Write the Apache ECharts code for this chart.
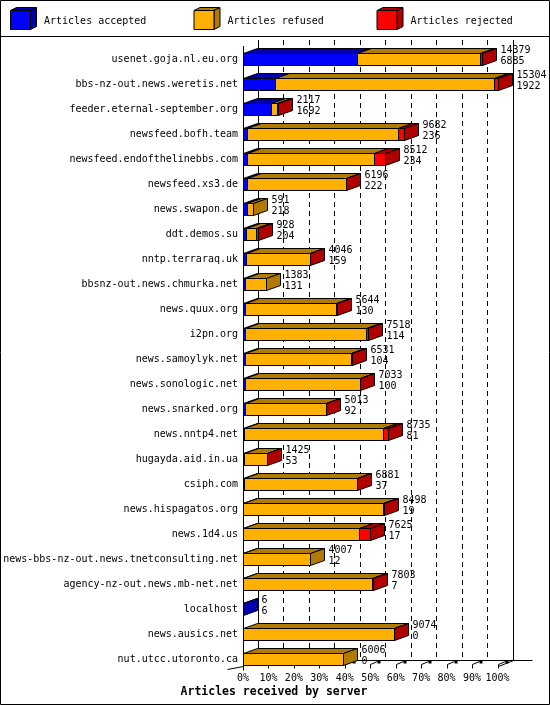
<!DOCTYPE html>
<html><head><meta charset="utf-8">
<script src="https://cdn.jsdelivr.net/npm/echarts@6/dist/echarts.min.js"></script>
<style>html,body{margin:0;padding:0;background:#fff}#c{width:550px;height:705px}</style>
</head><body><div id="c"></div>
<script>
const servers = ['usenet.goja.nl.eu.org','bbs-nz-out.news.weretis.net','feeder.eternal-september.org','newsfeed.bofh.team','newsfeed.endofthelinebbs.com','newsfeed.xs3.de','news.swapon.de','ddt.demos.su','nntp.terraraq.uk','bbsnz-out.news.chmurka.net','news.quux.org','i2pn.org','news.samoylyk.net','news.sonologic.net','news.snarked.org','news.nntp4.net','hugayda.aid.in.ua','csiph.com','news.hispagatos.org','news.1d4.us','news-bbs-nz-out.news.tnetconsulting.net','agency-nz-out.news.mb-net.net','localhost','news.ausics.net','nut.utcc.utoronto.ca'];
const offered  = [14379,15304,2117,9682,8512,6196,591,928,4046,1383,5644,7518,6531,7033,5013,8735,1425,6881,8498,7625,4007,7803,6,9074,6006];
const accepted = [6885,1922,1692,236,234,222,218,204,159,131,130,114,104,100,92,81,53,37,19,17,12,7,6,0,0];
const refused  = [7364,13192,355,9086,7618,5949,373,560,3847,1252,5444,7264,6412,6923,4911,8354,1362,6829,8429,6963,3995,7741,0,9059,6006];
const rejected = [130,190,70,360,660,25,0,164,40,0,70,140,15,10,10,300,10,15,50,645,0,55,0,15,0];
const seriesNames = ['Articles accepted','Articles refused','Articles rejected'];
const axisTitle = 'Articles received by server';
const xTicks = [0,10,20,30,40,50,60,70,80,90,100];

const FRONT = ['#0000FF','#FFB000','#FF0000'];
const DARK  = ['#0000B0','#B07B00','#B00000'];
const FONT = "10px 'DejaVu Sans Mono', monospace";
const N = servers.length;
const maxTotal = Math.max.apply(null, offered);
const pct = v => v / maxTotal * 100;
const data = servers.map((s, i) => [i, pct(accepted[i]), pct(refused[i]), pct(rejected[i]), offered[i], accepted[i]]);

function px(v){ return Math.round(v) + 0.5; }

function renderBar(params, api) {
  const ci = api.value(0);
  const c0 = api.coord([0, ci]);
  const yc = c0[1];
  const bh = 12;
  const yt = px(yc - bh / 2), yb = px(yc + bh / 2);
  const DX = 14, DY = 5;
  const xs = [px(c0[0])];
  let cum = 0;
  for (let k = 0; k < 3; k++) { cum += api.value(1 + k); xs.push(px(api.coord([cum, ci])[0])); }
  const ch = [];
  let last = -1;
  for (let k = 0; k < 3; k++) if (api.value(1 + k) > 0) last = k;
  for (let k = 0; k < 3; k++) {
    if (!(api.value(1 + k) > 0)) continue;
    const a = xs[k], b = Math.max(xs[k + 1], a);
    ch.push({type:'polygon', shape:{points:[[a,yt],[b,yt],[b+DX,yt-DY],[a+DX,yt-DY]]}, style:{fill:DARK[k], stroke:'#000', lineWidth:1}});
    ch.push({type:'rect', shape:{x:a, y:yt, width:b-a, height:yb-yt}, style:{fill:FRONT[k], stroke:'#000', lineWidth:1}});
  }
  if (last >= 0) {
    const e = xs[3];
    ch.push({type:'polygon', shape:{points:[[e,yt],[e+DX,yt-DY],[e+DX,yb-DY],[e,yb]]}, style:{fill:DARK[last], stroke:'#000', lineWidth:1}});
  }
  const lx = xs[3] + DX + 4;
  ch.push({type:'text', style:{text:String(api.value(4)), x:lx, y:yc - 9, font:FONT, fill:'#000', align:'left', verticalAlign:'middle'}});
  ch.push({type:'text', style:{text:String(api.value(5)), x:lx, y:yc + 2, font:FONT, fill:'#000', align:'left', verticalAlign:'middle'}});
  return {type:'group', children:ch};
}

function renderWalls(params, api) {
  const DX = 15, DY = 6;
  const first = api.coord([0, 0]), lastC = api.coord([0, N - 1]);
  const xF0 = px(first[0]);
  const xF100 = px(api.coord([100, 0])[0]);
  const frontTop = Math.round(first[1] - 13.3);
  const backTop = frontTop - DY;
  const floorF = px(lastC[1] + 6.7);
  const floorB = floorF - DY;
  const ch = [];
  const ln = (x1,y1,x2,y2,dash) => ch.push({type:'line', shape:{x1,y1,x2,y2}, style:{stroke:'#000', lineWidth:1, lineDash:dash||null}});
  // dashed grid on back wall
  xTicks.forEach(t => {
    if (t === 0 || t === 100) return;
    const x = px(api.coord([t, 0])[0]) + DX;
    ln(x, backTop, x, floorB, [5, 4]);
  });
  ln(xF0 + DX, backTop, xF0 + DX, floorB);
  ln(xF100 + DX, backTop, xF100 + DX, floorB);
  ln(xF0 + DX, floorB, xF100 + DX + 19, floorB);
  ln(xF100, floorF, xF100 + DX, floorB);
  ln(xF0 - 16, floorF + 3, xF0, floorF);
  // ticks
  xTicks.forEach(t => {
    const x = px(api.coord([t, 0])[0]);
    ch.push({type:'polyline', shape:{points:[[x, floorF + 2],[x, floorF - 2],[x + 7, floorB + 1]]}, style:{stroke:'#000', fill:null, lineWidth:1}});
    ch.push({type:'rect', shape:{x:x + 7, y:floorB, width:3, height:3}, style:{fill:'#000'}});
  });
  ln(xF0, frontTop, xF0, floorF + 4);
  return {type:'group', children:ch};
}

const legendX = [10, 193.5, 376.5];
const graphics = [
  {type:'rect', shape:{x:0.5, y:0.5, width:549, height:704}, style:{fill:null, stroke:'#000', lineWidth:1}, z:100},
  {type:'line', shape:{x1:0, y1:36.5, x2:550, y2:36.5}, style:{stroke:'#000', lineWidth:1}, z:100},
  {type:'text', x:274, y:692, style:{text:axisTitle, font:"bold 11.5px 'DejaVu Sans Mono', monospace", fill:'#000', align:'center', verticalAlign:'middle'}}
];
seriesNames.forEach((name, k) => {
  const x = legendX[k] + 0.5, y = 10.5, w = 20, h = 19, dx = 6, dy = 3;
  graphics.push({type:'polygon', shape:{points:[[x,y],[x+w,y],[x+w+dx,y-dy],[x+dx,y-dy]]}, style:{fill:DARK[k], stroke:'#000', lineWidth:1}});
  graphics.push({type:'polygon', shape:{points:[[x+w,y],[x+w+dx,y-dy],[x+w+dx,y+h-dy],[x+w,y+h]]}, style:{fill:DARK[k], stroke:'#000', lineWidth:1}});
  graphics.push({type:'rect', shape:{x:x, y:y, width:w, height:h}, style:{fill:FRONT[k], stroke:'#000', lineWidth:1}});
  graphics.push({type:'text', x:legendX[k] + 34, y:21, style:{text:name, font:FONT, fill:'#000', align:'left', verticalAlign:'middle'}});
});

const chart = echarts.init(document.getElementById('c'), null, {renderer:'canvas'});
chart.setOption({
  animation:false,
  backgroundColor:'#fff',
  grid:{left:243, right:52.5, top:46.8, height:625, containLabel:false},
  xAxis:{type:'value', min:0, max:100, interval:10,
    axisLine:{show:false}, axisTick:{show:false}, splitLine:{show:false},
    axisLabel:{formatter:'{value}%', margin:2, color:'#000', fontFamily:"'DejaVu Sans Mono', monospace", fontSize:10}},
  yAxis:{type:'category', inverse:true, data:servers,
    axisLine:{show:false}, axisTick:{show:false}, splitLine:{show:false},
    axisLabel:{margin:5, color:'#000', fontFamily:"'DejaVu Sans Mono', monospace", fontSize:10, interval:0}},
  graphic:graphics,
  series:[
    {type:'custom', name:'walls', renderItem:renderWalls, data:[[0,0]], encode:{x:0, y:1}, silent:true, z:1},
    {type:'custom', name:'bars', renderItem:renderBar, data:data, encode:{x:[1,2,3], y:0}, silent:true, z:2}
  ]
});
</script></body></html>
